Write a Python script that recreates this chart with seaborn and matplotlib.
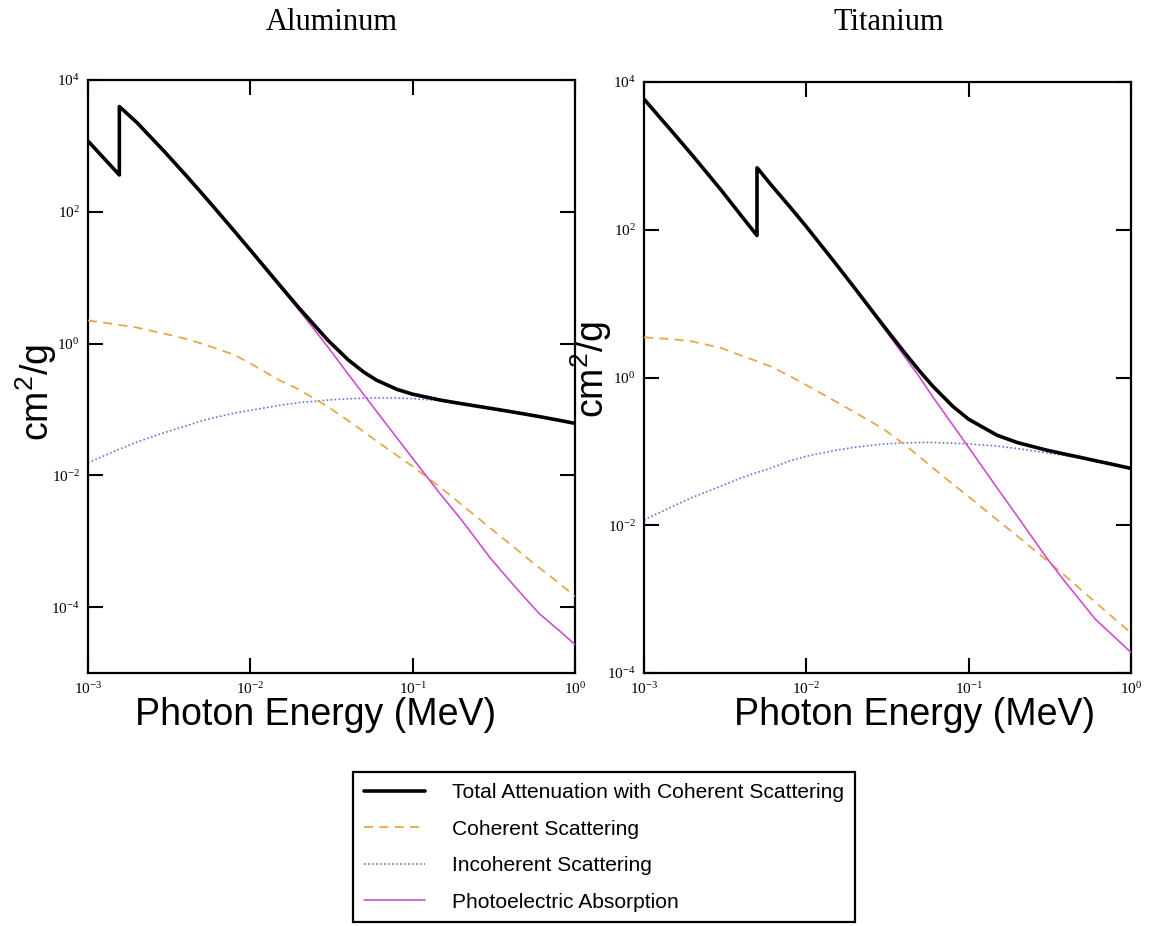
import numpy as np
import pandas as pd
import matplotlib
matplotlib.use("Agg")
import matplotlib.pyplot as plt
from matplotlib.ticker import FixedLocator, FuncFormatter, NullLocator
import seaborn as sns

sns.set_style("ticks")
plt.rcParams["font.family"] = ["Liberation Serif", "DejaVu Serif"]
plt.rcParams["mathtext.fontset"] = "custom"
plt.rcParams["mathtext.rm"] = "Liberation Sans"
plt.rcParams["text.color"] = "black"
plt.rcParams["axes.labelcolor"] = "black"
plt.rcParams["xtick.color"] = "black"
plt.rcParams["ytick.color"] = "black"

# aluminium, mass attenuation (cm2/g) vs photon energy (MeV)
al_energy = [1e-3, 1.5e-3, 1.5596e-3, 1.5596e-3, 2e-3, 3e-3, 4e-3, 5e-3, 6e-3, 8e-3,
             1e-2, 1.5e-2, 2e-2, 3e-2, 4e-2, 5e-2, 6e-2, 8e-2, 1e-1, 1.5e-1, 2e-1,
             3e-1, 4e-1, 5e-1, 6e-1, 8e-1, 1.0]
al_total = [1185, 402.2, 362.1, 3957, 2263, 788.0, 360.5, 193.4, 115.3, 50.33,
            26.23, 7.955, 3.441, 1.128, 0.5685, 0.3681, 0.2778, 0.2018, 0.1704, 0.1378, 0.1223,
            0.1042, 0.09276, 0.08445, 0.07802, 0.06841, 0.06146]
al_coherent = [2.24, 1.95, 1.92, 1.92, 1.75, 1.40, 1.18, 1.00, 0.86, 0.67,
               0.50, 0.28, 0.20, 0.11, 0.068, 0.046, 0.033, 0.020, 0.0137, 0.0064, 0.0036,
               0.00159, 0.0009, 0.00057, 0.0004, 0.00023, 0.000145]
al_incoherent = [0.0155, 0.024, 0.025, 0.025, 0.032, 0.045, 0.056, 0.067, 0.075, 0.088,
                 0.097, 0.115, 0.127, 0.139, 0.145, 0.148, 0.150, 0.149, 0.146, 0.136, 0.122,
                 0.104, 0.093, 0.084, 0.078, 0.068, 0.061]
al_photo = [1183, 400, 360, 3955, 2261, 786, 359, 192, 114, 49.6,
            25.6, 7.6, 3.2, 0.89, 0.345, 0.168, 0.093, 0.037, 0.0181, 0.0050, 0.0021,
            0.00056, 0.000245, 0.000132, 0.0000805, 0.000044, 0.000027]

# titanium
ti_energy = [1e-3, 1.5e-3, 2e-3, 3e-3, 4e-3, 4.9664e-3, 4.9664e-3, 5e-3, 6e-3, 8e-3,
             1e-2, 1.5e-2, 2e-2, 3e-2, 4e-2, 5e-2, 6e-2, 8e-2, 1e-1, 1.5e-1, 2e-1,
             3e-1, 4e-1, 5e-1, 6e-1, 8e-1, 1.0]
ti_total = [5869, 2096, 998.6, 340.3, 152, 83.59, 688.1, 683.3, 416.9, 198.8,
            110.2, 35.87, 15.90, 4.972, 2.214, 1.213, 0.7661, 0.4052, 0.2721, 0.1649, 0.1314,
            0.1043, 0.09081, 0.08195, 0.07504, 0.06550, 0.05880]
ti_coherent = [3.5, 3.3, 3.07, 2.5, 1.97, 1.66, 1.66, 1.65, 1.42, 1.03,
               0.79, 0.48, 0.335, 0.20, 0.125, 0.084, 0.060, 0.036, 0.0244, 0.0118, 0.0071,
               0.0034, 0.0020, 0.0013, 0.00092, 0.00053, 0.00035]
ti_incoherent = [0.0118, 0.018, 0.024, 0.034, 0.044, 0.052, 0.052, 0.052, 0.059, 0.075,
                 0.086, 0.103, 0.114, 0.126, 0.130, 0.132, 0.132, 0.129, 0.126, 0.118, 0.109,
                 0.096, 0.087, 0.080, 0.074, 0.065, 0.058]
ti_photo = [5865, 2092, 995, 338, 150, 82, 686, 681, 415, 198,
            109, 35.3, 15.5, 4.67, 1.97, 1.0, 0.55, 0.226, 0.113, 0.0318, 0.0131,
            0.0037, 0.00163, 0.00089, 0.00054, 0.0003, 0.00019]

labels = ["Total Attenuation with Coherent Scattering", "Coherent Scattering",
          "Incoherent Scattering", "Photoelectric Absorption"]
x_ticks = [1e-3, 1e-2, 1e-1, 1e0]
y_ticks = [1e-4, 1e-2, 1e0, 1e2, 1e4]

W, H = 1157, 926
fig = plt.figure(figsize=(W / 100, H / 100), dpi=100)


def px_axes(x0, y0, x1, y1):
    return fig.add_axes([x0 / W, 1 - y1 / H, (x1 - x0) / W, (y1 - y0) / H])


def sci(v, pos):
    e = int(round(np.log10(v)))
    return r"$\mathregular{10^{%d}}$" % e


def draw(ax, energy, total, coh, incoh, photo, ylim):
    sns.lineplot(x=energy, y=incoh, ax=ax, estimator=None, sort=False, legend=False,
                 color="#6f6fd6", lw=1.2, linestyle=(0, (1, 1.4)), label=labels[2], zorder=2)
    sns.lineplot(x=energy, y=coh, ax=ax, estimator=None, sort=False, legend=False,
                 color="#e4a84e", lw=1.3, linestyle=(0, (5, 3.5)), label=labels[1], zorder=3)
    sns.lineplot(x=energy, y=photo, ax=ax, estimator=None, sort=False, legend=False,
                 color="#cc4fd0", lw=1.2, label=labels[3], zorder=4)
    sns.lineplot(x=energy, y=total, ax=ax, estimator=None, sort=False, legend=False,
                 color="black", lw=2.6, label=labels[0], zorder=5)
    ax.set_xscale("log")
    ax.set_yscale("log")
    ax.set_xlim(1e-3, 1)
    ax.set_ylim(*ylim)
    ax.xaxis.set_major_locator(FixedLocator(x_ticks))
    ax.yaxis.set_major_locator(FixedLocator(y_ticks))
    ax.xaxis.set_minor_locator(NullLocator())
    ax.yaxis.set_minor_locator(NullLocator())
    ax.xaxis.set_major_formatter(FuncFormatter(sci))
    ax.yaxis.set_major_formatter(FuncFormatter(sci))
    ax.tick_params(which="major", direction="in", length=11, width=1.5,
                   top=True, right=True, labelsize=11, pad=6, colors="black")
    for s in ax.spines.values():
        s.set_linewidth(1.6)
        s.set_color("black")
        s.set_visible(True)
    ax.set_xlabel("")
    ax.set_ylabel("")
    ax.set_facecolor("white")


ax1 = px_axes(88, 80, 575, 673)
draw(ax1, al_energy, al_total, al_coherent, al_incoherent, al_photo, (1e-5, 1e4))
ax2 = px_axes(644, 82, 1131, 673)
draw(ax2, ti_energy, ti_total, ti_coherent, ti_incoherent, ti_photo, (1e-4, 1e4))

# titles and axis labels
fig.text(332 / W, 1 - 22 / H, "Aluminum", ha="center", va="center", fontsize=22)
fig.text(889 / W, 1 - 22 / H, "Titanium", ha="center", va="center", fontsize=22)
sans = ["Liberation Sans", "DejaVu Sans"]
fig.text(316 / W, 1 - 725 / H, "Photon Energy (MeV)", ha="center", va="baseline",
         fontsize=27, family=sans)
fig.text(915 / W, 1 - 725 / H, "Photon Energy (MeV)", ha="center", va="baseline",
         fontsize=27, family=sans)
fig.text(36 / W, 1 - 393 / H, r"cm$^{2}$/g", ha="center", va="center", rotation=90,
         fontsize=27, family=sans)
fig.text(591 / W, 1 - 370 / H, r"cm$^{2}$/g", ha="center", va="center", rotation=90,
         fontsize=27, family=sans)

# shared legend
by_label = {ln.get_label(): ln for ln in ax1.get_lines()}
handles = [by_label[l] for l in labels]
leg = fig.legend(handles, labels, loc="upper left", bbox_to_anchor=(343 / W, 1 - 762 / H),
                 frameon=True, fancybox=False, shadow=False,
                 handlelength=2.9, handletextpad=1.3, labelspacing=0.84, borderpad=0.5,
                 prop={"family": sans, "size": 15.1})
leg.get_frame().set_edgecolor("black")
leg.get_frame().set_linewidth(1.6)
leg.get_frame().set_alpha(1)

fig.savefig("out.png", dpi=100, facecolor="white")
